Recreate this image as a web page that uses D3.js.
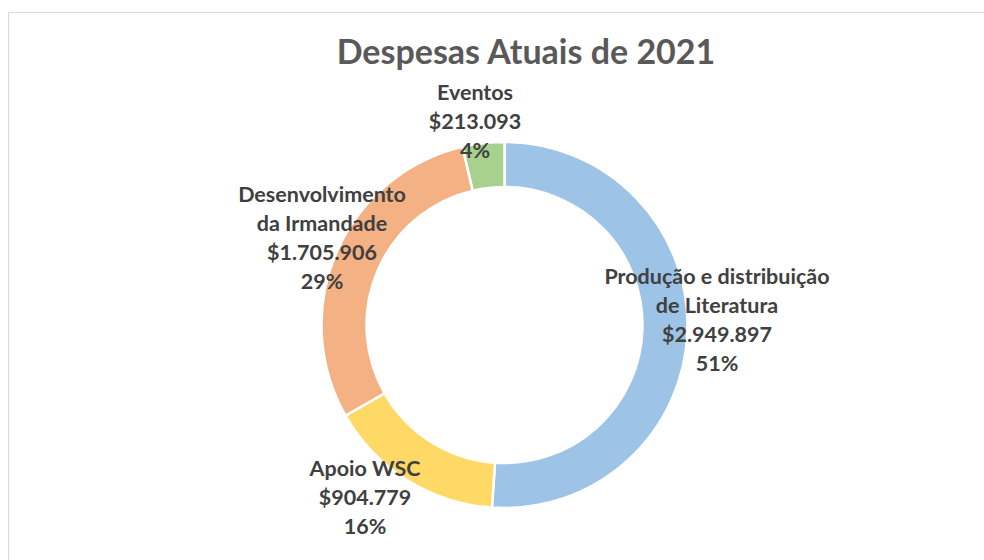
<!DOCTYPE html>
<html>
<head>
<meta charset="utf-8">
<script src="https://cdn.jsdelivr.net/npm/d3@7"></script>
<style>
  body { margin: 0; background: #fff; }
  svg text { font-family: Lato, "Open Sans", sans-serif; font-weight: bold; }
</style>
</head>
<body>
<svg id="chart" width="984" height="560"></svg>
<script>
// despesas 2021
var categories = ["Produção e distribuição de Literatura", "Apoio WSC", "Desenvolvimento da Irmandade", "Eventos"];
var values = [2949897, 904779, 1705906, 213093];
var valueLabels = ["$2.949.897", "$904.779", "$1.705.906", "$213.093"];
var pctLabels = ["51%", "16%", "29%", "4%"];
var nameLines = [["Produção e distribuição", "de Literatura"], ["Apoio WSC"], ["Desenvolvimento", "da Irmandade"], ["Eventos"]];
var colors = ["#9dc3e6", "#ffd966", "#f4b183", "#a9d18e"];

// where each label block is centred (layout only)
var labelCenters = [[717, 320], [365, 497], [322, 238], [475, 121]];

var width = 984, height = 560;
var cx = 504.5, cy = 325, outerR = 183, innerR = 138;
var lineH = 29;

var svg = d3.select("#chart");

svg.append("rect")
    .attr("x", 8.5).attr("y", 12.5)
    .attr("width", 1000).attr("height", 600)
    .attr("fill", "#fff")
    .attr("stroke", "#d9d9d9")
    .attr("stroke-width", 1);

svg.append("text")
    .attr("x", 526).attr("y", 64)
    .attr("text-anchor", "middle")
    .attr("fill", "#595959")
    .style("font-size", "34px")
    .text("Despesas Atuais de 2021");

var pie = d3.pie().sort(null).value(function(d){ return d; });
var arc = d3.arc().innerRadius(innerR).outerRadius(outerR);

var g = svg.append("g").attr("transform", "translate(" + cx + "," + cy + ")");

g.selectAll("path")
    .data(pie(values))
    .enter()
    .append("path")
    .attr("d", arc)
    .attr("fill", function(d, i){ return colors[i]; })
    .attr("stroke", "#fff")
    .attr("stroke-width", 2.5);

var labels = svg.append("g");
categories.forEach(function(c, i){
    var lines = nameLines[i].concat([valueLabels[i], pctLabels[i]]);
    var top = labelCenters[i][1] - (lines.length - 1) * lineH / 2;
    var t = labels.append("text")
        .attr("text-anchor", "middle")
        .attr("fill", "#404040")
        .style("font-size", "21.5px");
    lines.forEach(function(l, k){
        t.append("tspan")
            .attr("x", labelCenters[i][0])
            .attr("y", top + k * lineH)
            .attr("dy", "0.35em")
            .text(l);
    });
});
</script>
</body>
</html>
